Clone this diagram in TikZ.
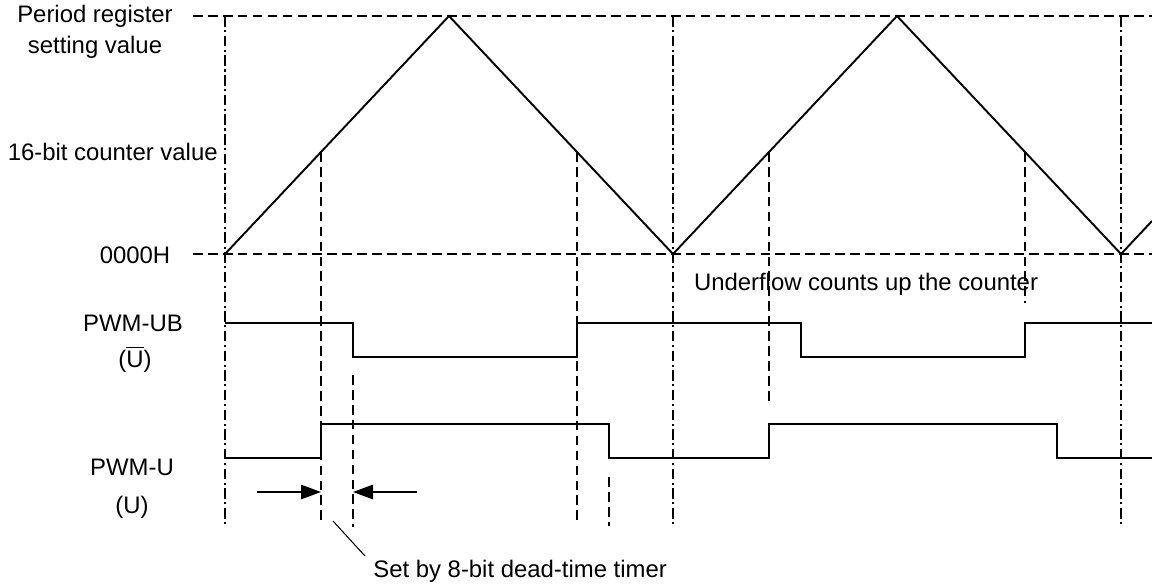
\documentclass[tikz,border=0pt]{standalone}
\usepackage{amsmath}
\usepackage{fontspec}
\setmainfont{Liberation Sans}
\usepackage{xcolor}
\usetikzlibrary{positioning,calc}
\usetikzlibrary{arrows.meta}

\tikzset{
    label/.style={inner sep=0pt,font=\fontsize{13.6pt}{17.6pt}\selectfont},
    counter/.style={line width=1.1pt,line join=miter},
    wave/.style={line width=0.75pt},
    guide/.style={line width=1pt,dash pattern=on 5.5pt off 3pt},
    axis/.style={line width=1pt,dash pattern=on 6pt off 2pt on 1.2pt off 2pt},
    gap/.style={line width=0.75pt,-{Triangle[length=0.4cm,width=0.29cm]}}
}

\begin{document}
\begin{tikzpicture}[x=0.02cm,y=-0.02cm]
    \useasboundingbox (0,0) rectangle (1152,586);
    % counter levels
    \coordinate (top0) at (193,16);
    \coordinate (top1) at (1152,16);
    \coordinate (bot0) at (193,254);
    \coordinate (bot1) at (1152,254);
    \draw[guide] (top0) -- (top1);
    \draw[guide] (bot0) -- (bot1);
    % triangle count
    \coordinate (t0) at (225,254);
    \coordinate (p1) at (449,16);
    \coordinate (t1) at (673,254);
    \coordinate (p2) at (897,16);
    \coordinate (t2) at (1121,254);
    \coordinate (tend) at (1152,221);
    \draw[counter] (t0) -- (p1) -- (t1) -- (p2) -- (t2) -- (tend);
    % underflow lines
    \foreach \x in {225,673,1121}
        \draw[axis] (\x,16) -- (\x,525);
    % compare match lines
    \coordinate (m1) at (321,152);
    \coordinate (m2) at (577,152);
    \coordinate (m3) at (769,152);
    \coordinate (m4) at (1025,152);
    \draw[guide] (m1) -- (321,523);
    \draw[guide] (m2) -- (577,523);
    \draw[guide] (m3) -- (769,403);
    \draw[guide] (m4) -- (1025,303);
    \draw[guide] (353,375) -- (353,527);
    \draw[guide] (609,477) -- (609,526);
    % PWM-UB
    \draw[wave] (225,323) -- (353,323) -- (353,357) -- (577,357) -- (577,323)
        -- (801,323) -- (801,357) -- (1025,357) -- (1025,323) -- (1152,323);
    % PWM-U
    \draw[wave] (225,458) -- (321,458) -- (321,424) -- (609,424) -- (609,458)
        -- (769,458) -- (769,424) -- (1057,424) -- (1057,458) -- (1152,458);
    % dead time
    \coordinate (dl) at (257,492);
    \coordinate (dr) at (417,492);
    \draw[gap] (dl) -- (321,492);
    \draw[gap] (dr) -- (353,492);
    % labels
    \node[label,align=center] (period) at (95,32) {Period register\\setting value};
    \node[label,anchor=east] (cnt) at (218,152) {16-bit counter value};
    \node[label] (zero) at (135,255) {0000H};
    \node[label] (ub) at (133,323) {PWM-UB};
    \node[label] (ubar) at (135,359) {(\(\overline{\mbox{U}}\))};
    \node[label] (u) at (132,467) {PWM-U};
    \node[label] (uu) at (132,507) {(U)};
    \node[label] (under) at (866,284) {Underflow counts up the counter};
    \node[label,anchor=west] (dead) at (373,571) {Set by 8-bit dead-time timer};
    \coordinate (lead) at (333,521);
    \draw[line width=0.6pt] (lead) -- (365,556);
\end{tikzpicture}
\end{document}
